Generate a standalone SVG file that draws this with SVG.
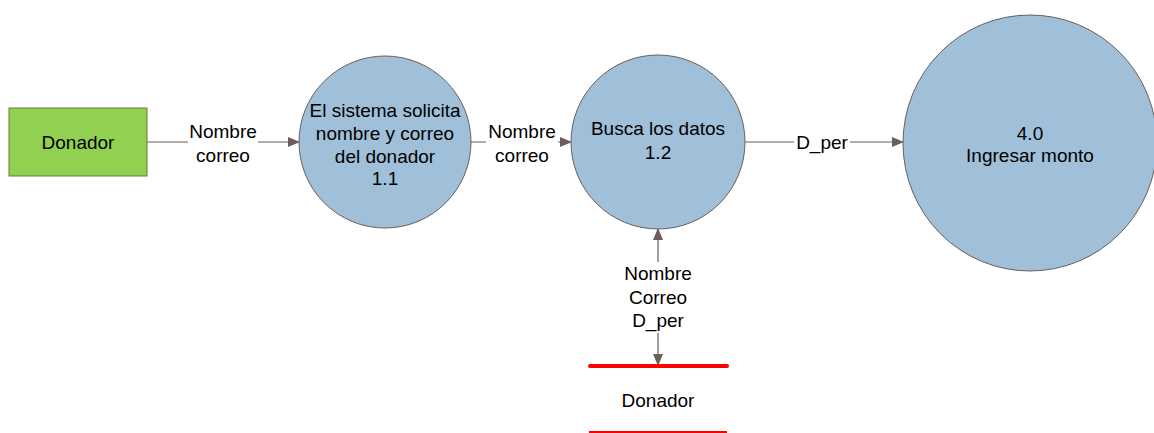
<svg xmlns="http://www.w3.org/2000/svg" width="1154" height="433" viewBox="0 0 1154 433">
<style>
text{font-family:"Liberation Sans",Arial,sans-serif;font-size:19px;fill:#000;text-anchor:middle}
.proc{fill:#a0bfd8;stroke:#6b5e58;stroke-width:1}
.flow{stroke:#6b5e58;stroke-width:1.2;fill:none}
.lbl{fill:#fff}
</style>
<defs>
<marker id="ah" markerWidth="12" markerHeight="10" refX="11" refY="5" orient="auto" markerUnits="userSpaceOnUse">
<path d="M0,0 L12,5 L0,10 Z" fill="#6b5e58"/>
</marker>
</defs>
<rect width="1154" height="433" fill="#fff"/>
<g id="connectors">
<line class="flow" x1="147" y1="142" x2="299" y2="142" marker-end="url(#ah)"/>
<rect class="lbl" x="188" y="120" width="70" height="48"/>
<text x="223" y="138">Nombre</text>
<text x="223" y="162">correo</text>
<line class="flow" x1="471" y1="142" x2="571" y2="142" marker-end="url(#ah)"/>
<rect class="lbl" x="486" y="120" width="72" height="48"/>
<text x="522" y="138">Nombre</text>
<text x="522" y="162">correo</text>
<line class="flow" x1="745" y1="142" x2="903" y2="142" marker-end="url(#ah)"/>
<rect class="lbl" x="794" y="131" width="56" height="22"/>
<text x="822" y="149">D_per</text>
<line class="flow" x1="658" y1="262" x2="658" y2="229" marker-end="url(#ah)"/>
<line class="flow" x1="658" y1="333" x2="658" y2="365" marker-end="url(#ah)"/>
<text x="658" y="280">Nombre</text>
<text x="658" y="304">Correo</text>
<text x="658" y="327">D_per</text>
</g>
<g id="donador">
<rect x="9" y="108" width="138" height="68" fill="#92d050" stroke="#6b7a3a" stroke-width="1"/>
<text x="78" y="149">Donador</text>
</g>
<g id="p11">
<ellipse class="proc" cx="385" cy="142" rx="86" ry="86"/>
<text x="385" y="117">El sistema solicita</text>
<text x="385" y="140">nombre y correo</text>
<text x="385" y="163">del donador</text>
<text x="385" y="185">1.1</text>
</g>
<g id="p12">
<ellipse class="proc" cx="658" cy="142" rx="87" ry="87"/>
<text x="658" y="135">Busca los datos</text>
<text x="658" y="159">1.2</text>
</g>
<g id="p40">
<ellipse class="proc" cx="1030" cy="143" rx="127" ry="128"/>
<text x="1030" y="140">4.0</text>
<text x="1030" y="162">Ingresar monto</text>
</g>
<g id="store">
<line x1="590" y1="366" x2="727" y2="366" stroke="#ff0000" stroke-width="4" stroke-linecap="round"/>
<line x1="589" y1="432" x2="727" y2="432" stroke="#ff0000" stroke-width="2"/>
<text x="658" y="407">Donador</text>
</g>
</svg>
